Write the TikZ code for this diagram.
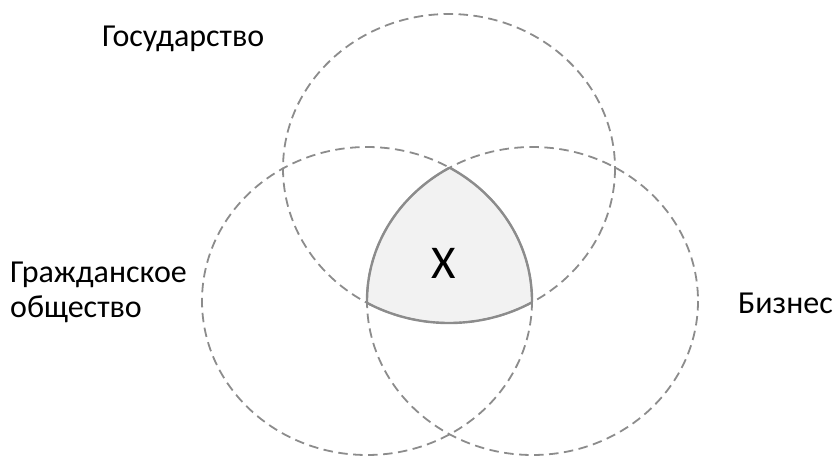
\documentclass[tikz,border=0pt]{standalone}
\usepackage{fontspec}
\setmainfont{Carlito}
\definecolor{ringgray}{HTML}{8C8C8C}
\definecolor{corefill}{HTML}{F2F2F2}
\tikzset{
  ring/.style={draw=ringgray,line width=1.8pt,dash pattern=on 9.5pt off 5.5pt},
  coreline/.style={draw=ringgray,line width=2.4pt},
  sector/.style={inner sep=0pt,anchor=base west,font=\fontsize{32}{35}\selectfont,align=left}
}
\newcommand{\topring}{(449,168.5) ellipse [x radius=166,y radius=154.5]}
\newcommand{\leftring}{(367,301) ellipse [x radius=165,y radius=154]}
\newcommand{\rightring}{(532.5,301) ellipse [x radius=165.5,y radius=154]}
\begin{document}
\begin{tikzpicture}[x=1pt,y=-1pt]
  \useasboundingbox (0,0) rectangle (835,457);
  % common area
  \begin{scope}
    \clip \topring; \clip \leftring;
    \fill[corefill] \rightring;
  \end{scope}
  \begin{scope}
    \clip \topring; \clip \leftring;
    \path[coreline] \rightring;
  \end{scope}
  \begin{scope}
    \clip \topring; \clip \rightring;
    \path[coreline] \leftring;
  \end{scope}
  \begin{scope}
    \clip \leftring; \clip \rightring;
    \path[coreline] \topring;
  \end{scope}
  % the three circles
  \path[ring] \topring;
  \path[ring] \leftring;
  \path[ring] \rightring;
  % labels
  \node[sector] (gos) at (102,47) {Государство};
  \node[sector] (obsh) at (10,317) {Гражданское\\общество};
  \node[sector] (biz) at (738,313) {Бизнес};
  \node[inner sep=0pt,anchor=base,font=\fontsize{47}{50}\selectfont] (core) at (444,278) {X};
\end{tikzpicture}
\end{document}
